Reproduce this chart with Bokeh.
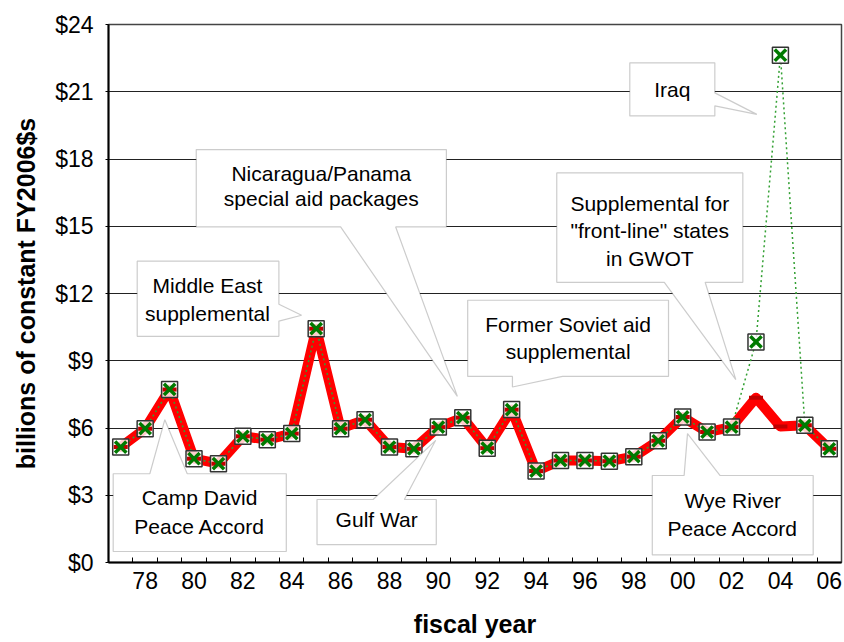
from bokeh.plotting import figure
from bokeh.models import FixedTicker, PolyAnnotation, Label, Range1d, ColumnDataSource
from bokeh.embed import file_html
from bokeh.resources import INLINE

# ---------------- data ----------------
years = list(range(1977, 2007))
# base foreign-aid series (red line)
base_aid = [5.15, 5.97, 7.72, 4.63, 4.41, 5.63, 5.48, 5.75, 10.43, 5.97,
            6.37, 5.15, 5.07, 6.04, 6.46, 5.10, 6.82, 4.08, 4.55, 4.55,
            4.52, 4.72, 5.43, 6.49, 5.82, 6.04, 7.35, 6.07, 6.12, 5.07]
# including supplementals (green dotted line with X markers)
total_aid = [5.15, 5.97, 7.72, 4.63, 4.41, 5.63, 5.48, 5.75, 10.43, 5.97,
             6.37, 5.15, 5.07, 6.04, 6.46, 5.10, 6.82, 4.08, 4.55, 4.55,
             4.52, 4.72, 5.43, 6.49, 5.82, 6.04, 9.84, 22.63, 6.12, 5.07]

x_tick_years = list(range(1978, 2007, 2))
x_tick_labels = ["78", "80", "82", "84", "86", "88", "90", "92", "94", "96",
                 "98", "00", "02", "04", "06"]
x_minor_ticks = [y + 0.5 for y in range(1977, 2006)]
y_ticks = [0, 3, 6, 9, 12, 15, 18, 21, 24]
y_tick_labels = ["$0", "$3", "$6", "$9", "$12", "$15", "$18", "$21", "$24"]

FONT = "Liberation Sans"

src = ColumnDataSource(data=dict(year=years, base=base_aid, total=total_aid))

p = figure(width=844, height=642, x_range=Range1d(1976.5, 2006.5),
           y_range=Range1d(0, 24), output_backend="svg", toolbar_location=None,
           min_border_left=108, min_border_right=3, min_border_top=24,
           min_border_bottom=80)
p.background_fill_color = "white"
p.border_fill_color = "white"
p.outline_line_color = "#444444"
p.outline_line_width = 1.5

# axes
p.xaxis.ticker = FixedTicker(ticks=x_tick_years, minor_ticks=x_minor_ticks)
p.xaxis.major_label_overrides = {y: l for y, l in zip(x_tick_years, x_tick_labels)}
p.xaxis.major_tick_in = 0
p.xaxis.major_tick_out = 0
p.xaxis.minor_tick_in = 5
p.xaxis.minor_tick_out = 0
p.xaxis.minor_tick_line_color = "black"
p.xaxis.major_label_standoff = 9
p.xaxis.axis_label = "fiscal year"
p.xaxis.axis_label_standoff = 18

p.yaxis.ticker = FixedTicker(ticks=y_ticks, minor_ticks=[])
p.yaxis.major_label_overrides = {t: l for t, l in zip(y_ticks, y_tick_labels)}
p.yaxis.major_tick_in = 0
p.yaxis.major_tick_out = 3
p.yaxis.minor_tick_line_color = None
p.yaxis.major_label_standoff = 12
p.yaxis.axis_label = "billions of constant FY2006$s"
p.yaxis.axis_label_standoff = 12

for ax in (p.xaxis[0], p.yaxis[0]):
    ax.axis_line_width = 2
    ax.axis_line_color = "black"
    ax.major_tick_line_color = "black"
    ax.major_label_text_font = FONT
    ax.major_label_text_font_size = "23px"
    ax.major_label_text_color = "black"
    ax.axis_label_text_font = FONT
    ax.axis_label_text_font_size = "25px"
    ax.axis_label_text_font_style = "bold"
    ax.axis_label_text_color = "black"

p.xgrid.visible = False
p.ygrid.ticker = FixedTicker(ticks=y_ticks)
p.ygrid.grid_line_color = "#222222"
p.ygrid.grid_line_width = 1

# ---------------- series ----------------
p.line("year", "base", source=src, line_color="#FF0000", line_width=10,
       line_join="round", line_cap="round")
p.line("year", "total", source=src, line_color="#33A033", line_width=1.5,
       line_dash="2 3")
p.scatter("year", "total", source=src, marker="square", size=16,
          fill_color="white", fill_alpha=0.8, line_color="#333333", line_width=1.5)
p.scatter("year", "base", source=src, marker="dash", size=14,
          line_color="#C00000", line_width=4)
p.scatter("year", "total", source=src, marker="x", size=16,
          line_color="#007A00", line_width=3.5)

# ---------------- callouts ----------------
callouts = [
    # Iraq
    dict(xs=[1997.835, 2001.316, 2001.316, 2003.036, 2001.316, 2001.316, 1997.835],
         ys=[22.29, 22.29, 20.95, 19.99, 20.37, 19.92, 19.92],
         lines=[("Iraq", 1999.575, 21.12)]),
    # Nicaragua / Panama
    dict(xs=[1980.091, 1990.329, 1990.329, 1988.253, 1990.779, 1986.0, 1980.091],
         ys=[18.42, 18.42, 14.97, 14.97, 7.41, 14.97, 14.97],
         lines=[("Nicaragua/Panama", 1985.21, 17.35),
                ("special aid packages", 1985.21, 16.24)]),
    # Middle East
    dict(xs=[1977.675, 1983.474, 1983.474, 1984.403, 1983.474, 1983.474, 1977.675],
         ys=[13.44, 13.44, 11.52, 11.03, 10.77, 10.09, 10.09],
         lines=[("Middle East", 1980.55, 12.37),
                ("supplemental", 1980.55, 11.10)]),
    # Camp David
    dict(xs=[1976.692, 1978.191, 1978.805, 1979.723, 1983.777, 1983.777, 1976.692],
         ys=[3.96, 3.96, 6.37, 3.96, 3.96, 0.49, 0.49],
         lines=[("Camp David", 1980.23, 2.90),
                ("Peace Accord", 1980.23, 1.61)]),
    # Gulf War
    dict(xs=[1985.034, 1987.331, 1989.891, 1988.609, 1989.915, 1989.915, 1985.034],
         ys=[2.81, 2.81, 5.45, 2.81, 2.81, 0.80, 0.80],
         lines=[("Gulf War", 1987.475, 1.90)]),
    # Former Soviet
    dict(xs=[1991.201, 1999.42, 1999.42, 1995.079, 1993.032, 1993.032, 1991.201],
         ys=[11.70, 11.70, 8.30, 8.30, 7.83, 8.30, 8.30],
         lines=[("Former Soviet aid", 1995.31, 10.63),
                ("supplemental", 1995.31, 9.42)]),
    # Supplemental GWOT
    dict(xs=[1994.846, 2002.462, 2002.462, 2000.919, 2002.176, 1999.248, 1994.846],
         ys=[17.38, 17.38, 12.50, 12.50, 8.16, 12.50, 12.50],
         lines=[("Supplemental for", 1998.654, 16.03),
                ("\"front-line\" states", 1998.654, 14.82),
                ("in GWOT", 1998.654, 13.57)]),
    # Wye River
    dict(xs=[1998.756, 2000.059, 2000.198, 2001.533, 2005.341, 2005.341, 1998.756],
         ys=[3.88, 3.88, 5.75, 3.88, 3.88, 0.34, 0.34],
         lines=[("Wye River", 2002.05, 2.77),
                ("Peace Accord", 2002.05, 1.52)]),
]

for c in callouts:
    p.add_layout(PolyAnnotation(xs=c["xs"], ys=c["ys"], xs_units="data", ys_units="data",
                                fill_color="white", fill_alpha=1.0,
                                line_color="#555555", line_width=1.2))
    for txt, lx, ly in c["lines"]:
        p.add_layout(Label(x=lx, y=ly, text=txt, text_align="center",
                           text_baseline="middle", text_font=FONT,
                           text_font_size="21px", text_color="black"))

open("out.html", "w").write(file_html(p, INLINE))
